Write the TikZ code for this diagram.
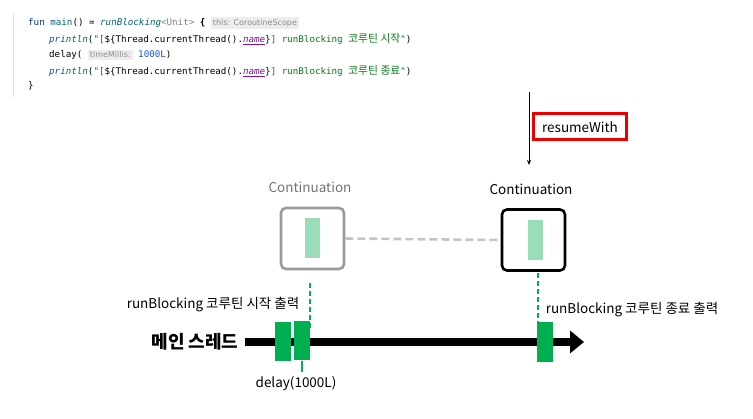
\documentclass[tikz,border=0pt]{standalone}
\usepackage{fontspec}
\setmainfont{Noto Sans CJK KR}
\setmonofont{DejaVu Sans Mono}
\newfontfamily\kr{Noto Sans CJK KR}
\newfontfamily\hintfont{DejaVu Sans}
\usetikzlibrary{arrows.meta}
\definecolor{kw}{HTML}{0033B3}
\definecolor{fnc}{HTML}{00627A}
\definecolor{strg}{HTML}{067D17}
\definecolor{numc}{HTML}{1750EB}
\definecolor{prop}{HTML}{871094}
\definecolor{hintbg}{HTML}{EDEDED}
\definecolor{hinttx}{HTML}{8C8C8C}
\definecolor{gbar}{HTML}{00B050}
\definecolor{lgreen}{HTML}{9ADDB8}
\definecolor{boxgray}{HTML}{9A9A9A}
\definecolor{dashgray}{HTML}{C4C4C4}
\definecolor{redbox}{HTML}{EE0000}
\newcommand{\hintbox}[1]{{\setlength\fboxsep{2pt}\colorbox{hintbg}{\hintfont\fontsize{8}{9}\selectfont\color{hinttx}#1}}}
\newcommand{\krm}[1]{{\kr\fontsize{10.8}{11}\selectfont #1}}
\tikzset{
  codeline/.style={anchor=west, inner sep=0pt, font=\ttfamily\fontsize{9.2}{10}\selectfont},
  lbl/.style={inner sep=0pt, font=\fontsize{13.5}{15}\selectfont},
  contbox/.style={draw, line width=2.6pt, rounded corners=5pt, minimum width=63pt, minimum height=61pt},
  inner/.style={fill=lgreen, minimum width=15pt, minimum height=40pt, inner sep=0pt},
  gbarbox/.style={fill=gbar, minimum width=16pt, minimum height=39pt, inner sep=0pt},
  gdash/.style={draw=gbar, line width=2.2pt, dash pattern=on 5pt off 3pt},
}
\begin{document}
\begin{tikzpicture}[x=1pt,y=-1pt]
\useasboundingbox (0,0) rectangle (753,419);
% gutter
\draw[draw=black!12, line width=1pt] (13,14) -- (13,97);
\node[codeline] (c1) at (28,23) {{\color{kw}fun} {\color{fnc}main}() = {\color{fnc}\itshape runBlocking}{\color{black!50}<Unit>} \textbf{\{} \hintbox{this: CoroutineScope}};
\node[codeline] (c2) at (49,39) {{\color{fnc}\itshape println}({\color{strg}"[}\$\{Thread.currentThread().{\color{prop}\itshape\underline{name}}\}{\color{strg}] runBlocking \krm{코루틴 시작}"})};
\node[codeline] (c3) at (49,55) {delay( \hintbox{timeMillis:} {\color{numc}1000L})};
\node[codeline] (c4) at (49,71) {{\color{fnc}\itshape println}({\color{strg}"[}\$\{Thread.currentThread().{\color{prop}\itshape\underline{name}}\}{\color{strg}] runBlocking \krm{코루틴 종료}"})};
\node[codeline] (c5) at (28,86) {\}};
% resumeWith
\coordinate (rtop) at (529,92);
\coordinate (rbot) at (529,165);
\draw[-{Stealth[length=5pt,width=4pt]}, line width=0.6pt] (rtop) -- (rbot);
\node[draw=redbox, line width=3pt, minimum width=93pt, minimum height=26pt, lbl] (rw) at (580,127) {resumeWith};
% continuation boxes
\node[lbl, text=black!55] (t1) at (310,187) {Continuation};
\node[contbox, draw=boxgray] (b1) at (312.5,238.5) {};
\node[inner] (i1) at (312.5,238) {};
\node[lbl] (t2) at (531,189) {Continuation};
\node[contbox, draw=black] (b2) at (533.5,240) {};
\node[inner] (i2) at (535,240) {};
\draw[draw=dashgray, line width=2.6pt, dash pattern=on 8pt off 4pt] (b1.east) -- (b2.west);
% main thread
\node[inner sep=0pt, font=\fontsize{18}{20}\selectfont\bfseries] (mt) at (195,342) {메인 스레드};
\coordinate (ms) at (245,342);
\coordinate (me) at (584,342);
\draw[line width=8pt, -{Triangle[length=14pt,width=22pt]}] (ms) -- (me);
\node[gbarbox] (g1) at (283,341.5) {};
\node[gbarbox] (g2) at (302,341) {};
\node[gbarbox, minimum height=40pt] (g3) at (545,342) {};
% dashed green
\coordinate (d1t) at (310,283);
\coordinate (d1b) at (310,330);
\draw[gdash] (d1t) -- (d1b);
\coordinate (d2t) at (538,273);
\coordinate (d2b) at (538,330);
\draw[gdash] (d2t) -- (d2b);
\coordinate (dl) at (302,372);
\draw[draw=gbar, line width=2pt] (g2.south) -- (dl);
% labels
\node[lbl] (l1) at (213,305) {runBlocking 코루틴 시작 출력};
\node[lbl] (l2) at (632,310) {runBlocking 코루틴 종료 출력};
\node[lbl] (l3) at (296,384) {delay(1000L)};
\end{tikzpicture}
\end{document}
